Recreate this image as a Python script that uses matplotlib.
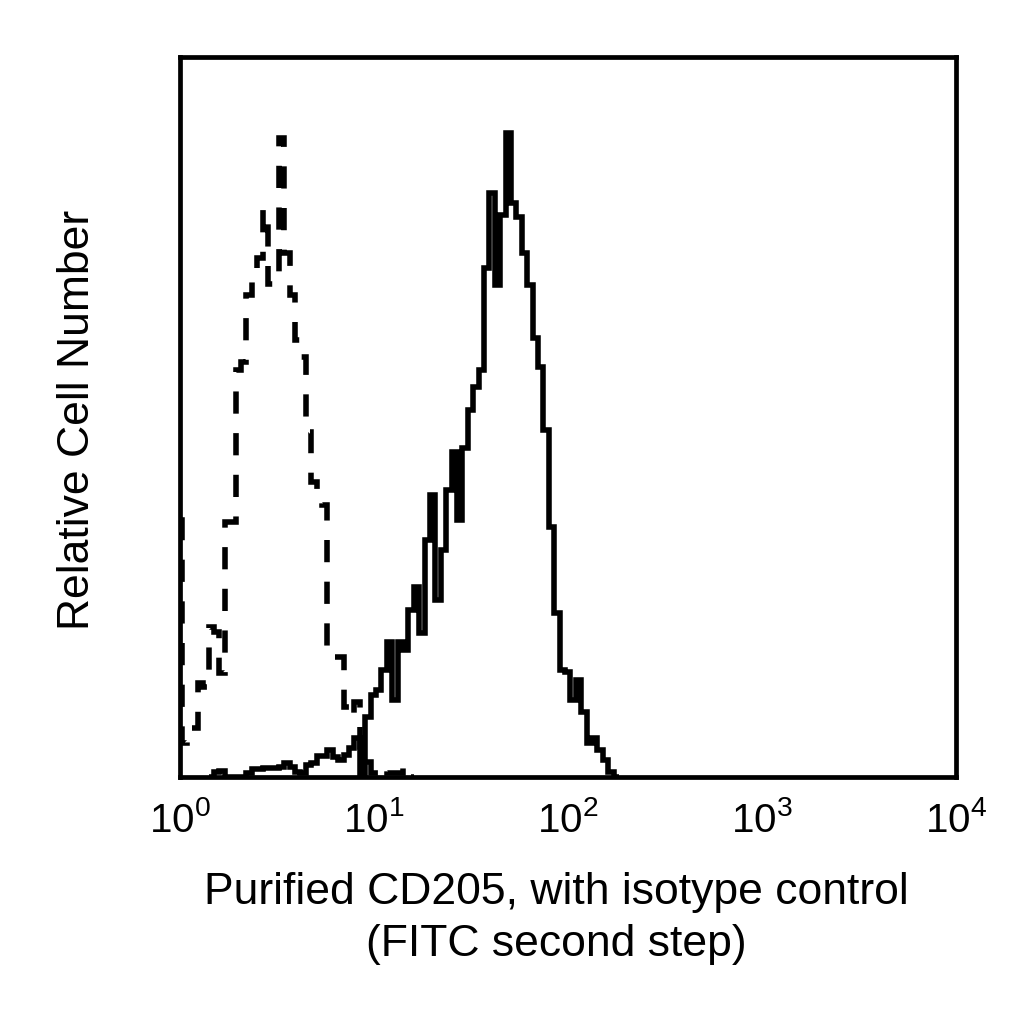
import numpy as np
import matplotlib
matplotlib.use("Agg")
import matplotlib.pyplot as plt
from matplotlib.ticker import LogFormatterSciNotation, NullLocator

plt.rcParams['font.family'] = ['Liberation Sans', 'DejaVu Sans']
plt.rcParams['mathtext.default'] = 'regular'

# ---------------- data (log10 channel edges, relative counts) ---------------- #

bin_w = 0.02784          # width of one display channel in decades

# CD205 stained sample (solid)
cd205_start = 0.1469
cd205_counts = [0, 5, 6, 0, 0, 0, 0, 4, 8, 8, 9, 9, 9, 10, 14, 10, 5, 4, 12, 14,
                21, 21, 27, 20, 17, 22, 29, 39,
                0, 60, 82, 87, 107, 135, 77, 135, 127, 167, 190, 144, 237, 282,
                177, 227, 287, 325, 257, 329, 367, 390, 407, 509, 584, 492, 562,
                644, 574, 560, 524, 492, 439, 410, 347, 250, 164, 107, 105, 77,
                97, 65, 34, 39, 27, 17, 5, 0]

# isotype control (dashed); first channel is the pile-up at the axis
iso_start = 0.0077
iso_first = 257
iso_counts = [34, 49, 49, 94, 90, 150, 145, 104, 255, 255, 407, 415, 482, 504,
              519, 567, 493, 493, 639, 524, 482, 437, 420, 345, 295, 277, 272,
              122, 120, 120, 70, 60, 75, 30, 15, 4, 4, 10, 4, 4, 4, 10, 0]

x_ticks = [1, 10, 100, 1000, 10000]
xlabel = "Purified CD205, with isotype control\n(FITC second step)"
ylabel = "Relative Cell Number"

# ---------------- #

cd205_edges = 10 ** (cd205_start + bin_w * np.arange(len(cd205_counts) + 1))
iso_edges = 10 ** np.concatenate([[0.0], iso_start + bin_w * np.arange(len(iso_counts) + 1)])
iso_values = [iso_first] + iso_counts

fig = plt.figure(figsize=(10.24, 10.24), dpi=100)
ax = fig.add_axes([0.1758, 0.2412, 0.7578, 0.7031])

ax.stairs(iso_values, iso_edges, color='black', linewidth=4.0,
          linestyle=(0, (4.0, 3.5)), baseline=None)
ax.stairs(cd205_counts, cd205_edges, color='black', linewidth=4.0,
          baseline=None)

ax.set_xscale('log')
ax.set_xlim(1, 1e4)
ax.set_ylim(0, 720)
ax.set_xticks(x_ticks)
ax.xaxis.set_major_formatter(LogFormatterSciNotation())
ax.xaxis.set_minor_locator(NullLocator())
ax.set_yticks([])
ax.tick_params(axis='x', length=0, pad=17, labelsize=29)

for s in ax.spines.values():
    s.set_linewidth(3.4)

fig.text(0.0752, 0.590, ylabel, rotation=90, ha='center', va='center', fontsize=32)
fig.text(0.543, 0.103, xlabel, ha='center', va='center', fontsize=32,
         linespacing=1.33, multialignment='center')

fig.savefig('out.png', dpi=100)
